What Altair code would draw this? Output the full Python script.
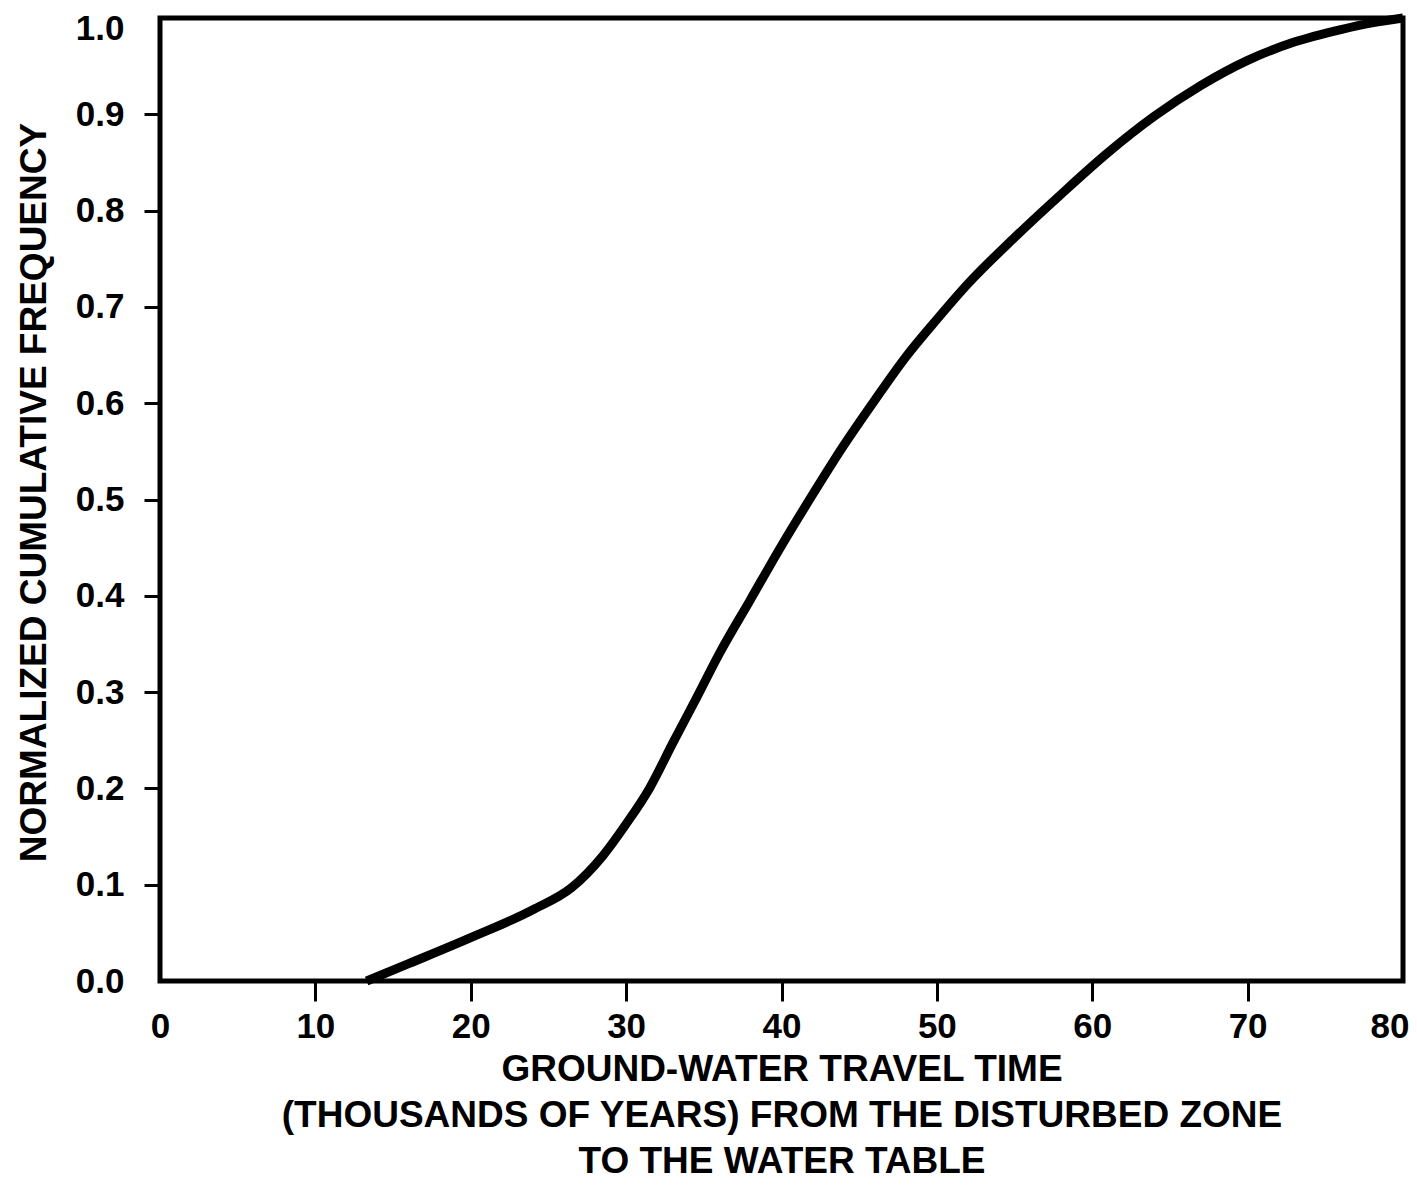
import altair as alt
import pandas as pd

travel_time = [13.3, 16.0, 20.0, 24.0, 26.5, 28.5, 30.0, 31.5, 33.0, 34.5, 36.0, 38.0,
               40.0, 42.0, 44.0, 46.0, 48.0, 50.0, 52.0, 55.0, 58.0, 61.0, 64.0, 67.0,
               70.0, 73.0, 76.0, 78.0, 80.0]
cum_freq = [0.0, 0.018, 0.045, 0.074, 0.097, 0.130, 0.163, 0.200, 0.247, 0.293, 0.340, 0.396,
            0.452, 0.505, 0.556, 0.603, 0.648, 0.687, 0.724, 0.772, 0.817, 0.860, 0.898, 0.930,
            0.956, 0.975, 0.988, 0.995, 1.0]

x_ticks = [0, 10, 20, 30, 40, 50, 60, 70, 80]
y_ticks = [0.0, 0.1, 0.2, 0.3, 0.4, 0.5, 0.6, 0.7, 0.8, 0.9, 1.0]

df = pd.DataFrame({"t": travel_time, "f": cum_freq})

FONT = "Liberation Sans"

chart = alt.Chart(df).mark_line(
    color="black", strokeWidth=9, interpolate="monotone", strokeCap="butt"
).encode(
    x=alt.X("t:Q", scale=alt.Scale(domain=[0, 80], nice=False, zero=False),
            axis=alt.Axis(
                values=x_ticks, format="d",
                title=["GROUND-WATER TRAVEL TIME",
                       "(THOUSANDS OF YEARS) FROM THE DISTURBED ZONE",
                       "TO THE WATER TABLE"],
                titleFont=FONT, titleFontSize=37, titleFontWeight="bold",
                titleColor="black", titleLineHeight=46, titlePadding=7,
                labelFont=FONT, labelFontSize=35, labelFontWeight="bold",
                labelColor="black", labelPadding=8,
                labelAlign={"condition": {"test": "datum.value == 80", "value": "right"}, "value": "center"},
                labelOffset={"condition": {"test": "datum.value == 80", "value": 6}, "value": 0},
                tickColor="black", tickWidth=3, tickSize=20,
                tickOpacity={"condition": {"test": "datum.value == 0 || datum.value == 80", "value": 0}, "value": 1},
                domain=False, grid=False, labelFlush=False)),
    y=alt.Y("f:Q", scale=alt.Scale(domain=[0, 1], nice=False),
            axis=alt.Axis(
                values=y_ticks, format=".1f",
                title="NORMALIZED CUMULATIVE FREQUENCY",
                titleFont=FONT, titleFontSize=37, titleFontWeight="bold",
                titleColor="black", titlePadding=22, titleY=474,
                labelFont=FONT, labelFontSize=35, labelFontWeight="bold",
                labelColor="black", labelPadding=20,
                labelOffset={"condition": {"test": "datum.value == 1", "value": 10}, "value": 0},
                tickColor="black", tickWidth=3, tickSize=16,
                tickOpacity={"condition": {"test": "datum.value == 0 || datum.value == 1", "value": 0}, "value": 1},
                domain=False, grid=False, labelFlush=False)),
).properties(
    width=1243, height=963,
    background="white",
    autosize=alt.AutoSizeParams(type="none"),
    padding={"left": 152, "top": 10, "right": 6, "bottom": 197},
).configure_view(
    stroke="black", strokeWidth=5
)

chart.save("out.html", embed_options={"renderer": "svg", "actions": False})
